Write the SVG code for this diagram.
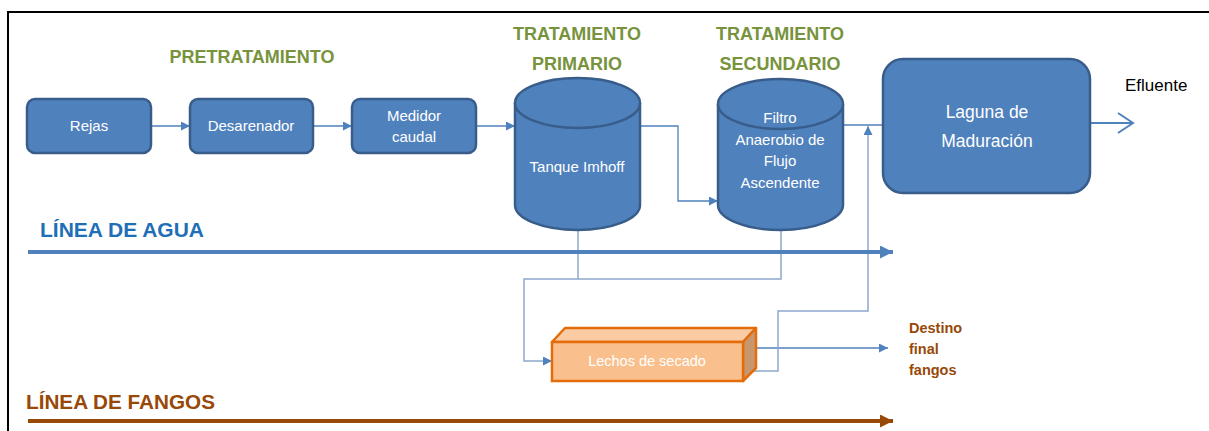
<svg xmlns="http://www.w3.org/2000/svg" width="1209" height="431" viewBox="0 0 1209 431">
<style>
.box{fill:#4F81BD;stroke:#385D8A;stroke-width:2.5}
.wt{font-family:"Liberation Sans",Arial,sans-serif;fill:#FFFFFF;font-size:15px;text-anchor:middle}
.hd{font-family:"Liberation Sans",Arial,sans-serif;font-weight:bold;fill:#77933C;font-size:18px;text-anchor:middle}
.cn{fill:none;stroke:#4F81BD;stroke-width:1.3}
.cs{fill:none;stroke:#8EA8CC;stroke-width:1.5}
.br{font-family:"Liberation Sans",Arial,sans-serif;font-size:14.5px;font-weight:bold;fill:#984807}
</style>
<defs>
<marker id="ah" viewBox="0 0 10 10" refX="10" refY="5" markerWidth="9" markerHeight="9" markerUnits="userSpaceOnUse" orient="auto"><path d="M0,0 L10,5 L0,10 z" fill="#4F81BD"/></marker>
<marker id="abig" viewBox="0 0 10 10" refX="10" refY="5" markerWidth="14" markerHeight="13" markerUnits="userSpaceOnUse" orient="auto"><path d="M0,0 L10,5 L0,10 z" fill="#4F81BD"/></marker>
<marker id="abrown" viewBox="0 0 10 10" refX="10" refY="5" markerWidth="14" markerHeight="13" markerUnits="userSpaceOnUse" orient="auto"><path d="M0,0 L10,5 L0,10 z" fill="#984807"/></marker>
</defs>
<rect x="0" y="0" width="1209" height="431" fill="#FFFFFF"/>
<path d="M8,440 L8,12 L1215,12" fill="none" stroke="#000000" stroke-width="2"/>

<g id="headings">
<text class="hd" x="252" y="63">PRETRATAMIENTO</text>
<text class="hd" x="577" y="40">TRATAMIENTO</text>
<text class="hd" x="577" y="70">PRIMARIO</text>
<text class="hd" x="780" y="40">TRATAMIENTO</text>
<text class="hd" x="780" y="70">SECUNDARIO</text>
</g>

<g id="connectors">
<line class="cn" x1="151" y1="126" x2="190" y2="126" marker-end="url(#ah)"/>
<line class="cn" x1="313" y1="126" x2="352" y2="126" marker-end="url(#ah)"/>
<line class="cn" x1="476" y1="126" x2="515" y2="126" marker-end="url(#ah)"/>
<polyline class="cn" points="640,126 678,126 678,201 718,201" marker-end="url(#ah)"/>
<line class="cn" x1="843" y1="125" x2="883" y2="125"/>
<polyline class="cs" points="578,230 578,279"/>
<polyline class="cs" points="781,230 781,279 524,279 524,361 552,361" marker-end="url(#ah)"/>
<line class="cn" x1="756" y1="348" x2="888" y2="348" marker-end="url(#ah)"/>
<polyline class="cs" points="743,371 778,371 778,311 868,311 868,126" marker-end="url(#ah)"/>
<line x1="1090" y1="123" x2="1132" y2="123" stroke="#4F81BD" stroke-width="2"/>
<polyline points="1118,113 1133,123 1118,133" fill="none" stroke="#4F81BD" stroke-width="2"/>
<line x1="28" y1="252" x2="893" y2="252" stroke="#4F81BD" stroke-width="4" marker-end="url(#abig)"/>
<line x1="28" y1="421" x2="893" y2="421" stroke="#984807" stroke-width="4" marker-end="url(#abrown)"/>
</g>

<g id="rejas">
<rect class="box" x="27" y="99" width="124" height="54" rx="8"/>
<text class="wt" x="89" y="131">Rejas</text>
</g>
<g id="desarenador">
<rect class="box" x="190" y="99" width="123" height="54" rx="8"/>
<text class="wt" x="251" y="131">Desarenador</text>
</g>
<g id="medidor">
<rect class="box" x="352" y="99" width="124" height="54" rx="8"/>
<text class="wt" x="414" y="121">Medidor</text>
<text class="wt" x="414" y="142">caudal</text>
</g>

<g id="tanque">
<path class="box" d="M515,103 L515,205 A62.5,25 0 0 0 640,205 L640,103"/>
<ellipse class="box" cx="577.5" cy="103" rx="62.5" ry="25"/>
<text class="wt" x="577" y="172">Tanque Imhoff</text>
</g>

<g id="filtro">
<path class="box" d="M718,104 L718,205 A62.5,25 0 0 0 843,205 L843,104"/>
<ellipse class="box" cx="780.5" cy="104" rx="62.5" ry="25"/>
<text class="wt" x="780" y="123">Filtro</text>
<text class="wt" x="780" y="144.5">Anaerobio de</text>
<text class="wt" x="780" y="166">Flujo</text>
<text class="wt" x="780" y="187.5">Ascendente</text>
</g>

<g id="laguna">
<rect class="box" x="883" y="59" width="207" height="134" rx="20"/>
<text class="wt" x="987" y="118" style="font-size:17.5px">Laguna de</text>
<text class="wt" x="987" y="147" style="font-size:17.5px">Maduración</text>
</g>

<g id="lechos">
<polygon points="552,342 565,328 756,328 743,342" fill="#FBCBA3" stroke="#E46C0A" stroke-width="2.5" stroke-linejoin="round"/>
<polygon points="743,342 756,328 756,368 743,381" fill="#C9976E" stroke="#E46C0A" stroke-width="2.5" stroke-linejoin="round"/>
<rect x="552" y="342" width="191" height="39" fill="#F9C08E" stroke="#E46C0A" stroke-width="2.5"/>
<text class="wt" x="647" y="366" style="font-size:14.5px">Lechos de secado</text>
</g>

<g id="labels">
<text x="1125" y="91" font-family="'Liberation Sans',Arial,sans-serif" font-size="17" fill="#000000">Efluente</text>
<text class="br" x="909" y="333">Destino</text>
<text class="br" x="909" y="354">final</text>
<text class="br" x="909" y="375">fangos</text>
<text x="40" y="237" font-family="'Liberation Sans',Arial,sans-serif" font-size="21" font-weight="bold" fill="#1F6FB7" textLength="164" lengthAdjust="spacingAndGlyphs">LÍNEA DE AGUA</text>
<text x="26" y="409" font-family="'Liberation Sans',Arial,sans-serif" font-size="21" font-weight="bold" fill="#984807" textLength="189" lengthAdjust="spacingAndGlyphs">LÍNEA DE FANGOS</text>
</g>
</svg>
